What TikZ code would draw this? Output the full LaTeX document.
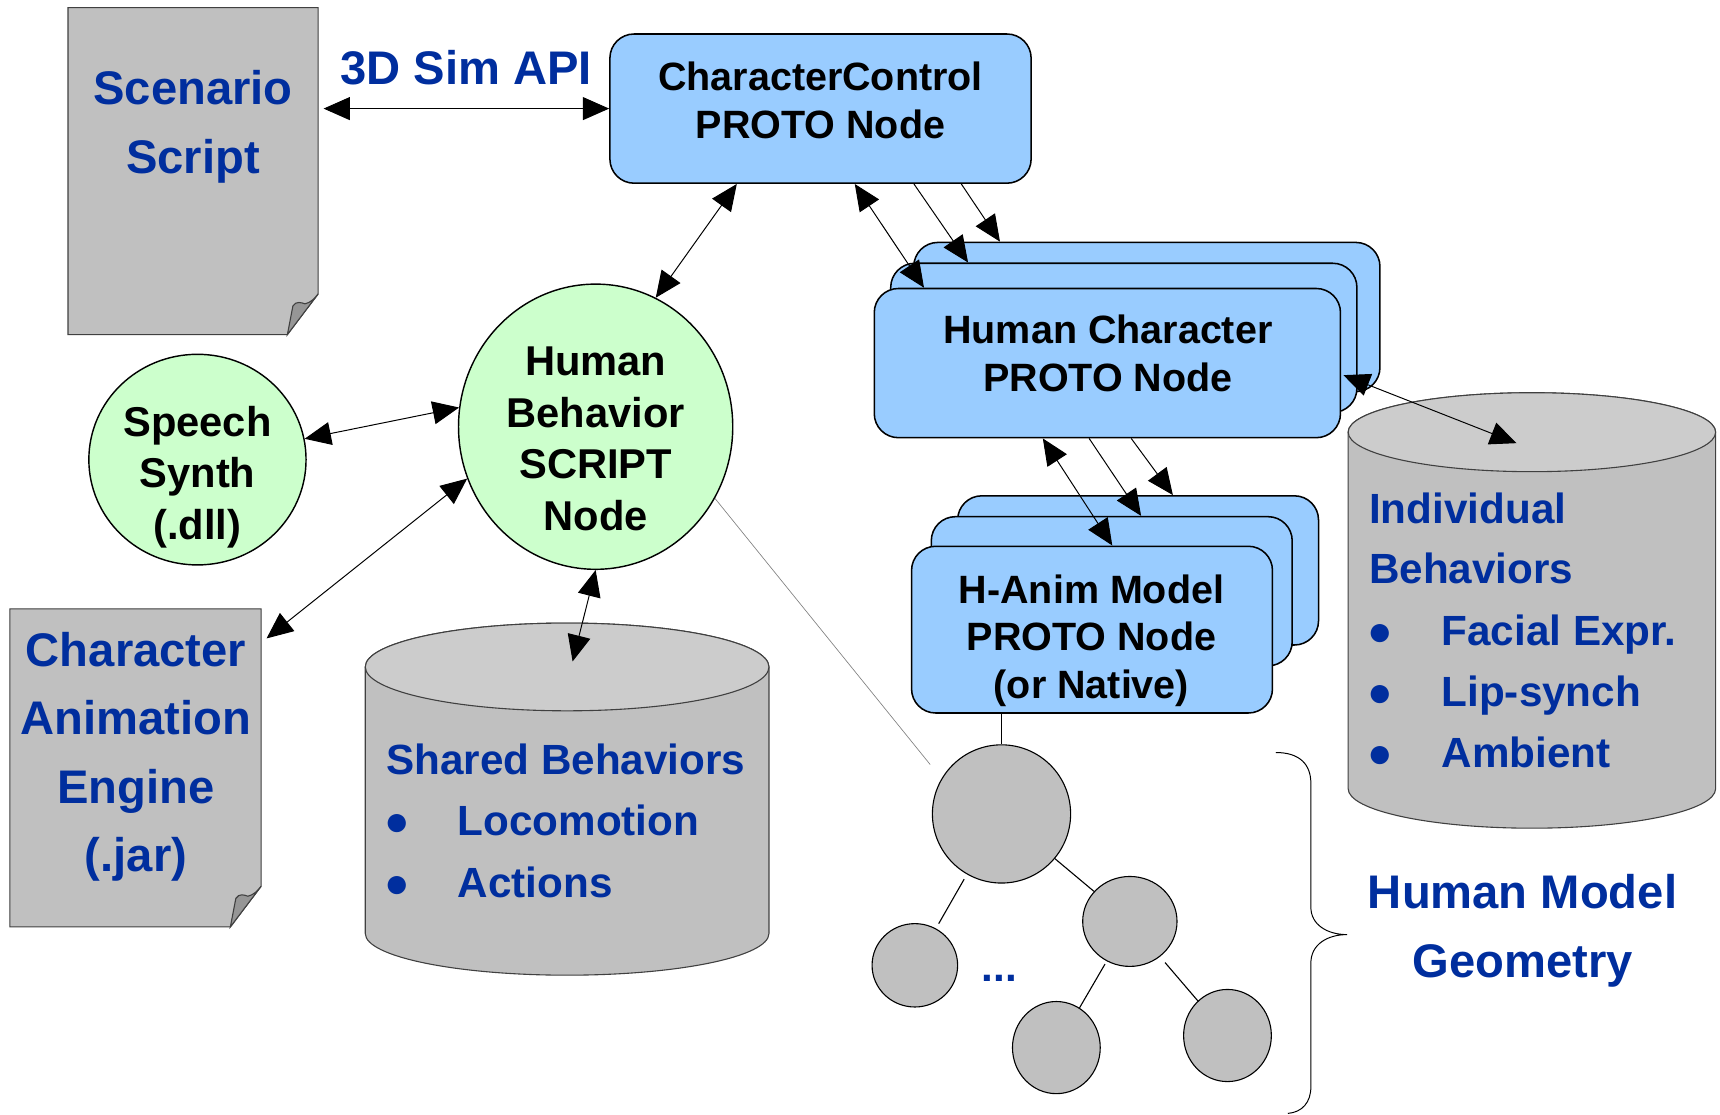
\documentclass[tikz,border=0pt]{standalone}
\usepackage{fontspec}
\setmainfont{Liberation Sans}
\usetikzlibrary{arrows.meta,shapes.geometric,calc}
\definecolor{boxblue}{HTML}{99CCFF}
\definecolor{bgreen}{HTML}{CCFFCC}
\definecolor{docgray}{HTML}{C0C0C0}
\definecolor{foldgray}{HTML}{969696}
\definecolor{cyltop}{HTML}{CCCCCC}
\definecolor{txtblue}{HTML}{002E9E}
\newcommand\fsBlk{\fontsize{36}{43.5}\selectfont\bfseries}
\newcommand\fsCir{\fontsize{38}{47}\selectfont\bfseries}
\newcommand\fsBig{\fontsize{43}{62.5}\selectfont\bfseries}
\newcommand\fsLst{\fontsize{38.5}{56}\selectfont\bfseries}
\begin{document}
\begin{tikzpicture}[x=1pt,y=-1pt,
  >={Triangle[length=24pt 0 0,width=21pt 0 0]},
  conn/.style={line width=0.9pt},
  dbl/.style={conn,<->},
  sgl/.style={conn,->},
  pbox/.style={draw,line width=1.4pt,fill=boxblue,rounded corners=22pt,inner sep=0pt},
  bub/.style={ellipse,draw,line width=1.3pt,fill=bgreen,inner sep=0pt},
  treeball/.style={ellipse,draw,line width=1pt,fill=docgray,inner sep=0pt},
  treeline/.style={line width=1pt},
  area/.style={inner sep=0pt,outer sep=0pt},
  docline/.style={draw=black!75,line width=1pt,fill=docgray},
  cylline/.style={draw=black!75,line width=1pt},
  btext/.style={align=center,text=black,inner sep=0pt},
  ltext/.style={align=center,text=txtblue,inner sep=0pt}]
\useasboundingbox (0,0) rectangle (1568,1016);

% ---- documents ----
\node[area,minimum width=228pt,minimum height=298pt] (scen) at (176,156) {};
\draw[docline] (62,7) -- (290,7) -- (290,268) -- (262,305) -- (62,305) -- cycle;
\draw[docline,fill=foldgray] (262,305) -- (267,279) .. controls (270,274) and (275,276) .. (278,277) .. controls (283,276) and (287,272) .. (290,268) -- cycle;

\node[area,minimum width=229pt,minimum height=290pt] (ca) at (123.5,700) {};
\draw[docline] (9,555) -- (238,555) -- (238,808) -- (210,845) -- (9,845) -- cycle;
\draw[docline,fill=foldgray] (210,845) -- (215,819) .. controls (218,814) and (223,816) .. (226,817) .. controls (231,816) and (235,812) .. (238,808) -- cycle;

% ---- cylinders ----
\node[area,minimum width=368pt,minimum height=321pt] (sh) at (517,728.5) {};
\draw[cylline,fill=docgray] (333,608) -- (333,851) arc[start angle=180,end angle=0,x radius=184,y radius=38] -- (701,608) arc[start angle=0,end angle=-180,x radius=184,y radius=40] -- cycle;
\draw[cylline,fill=cyltop] (517,608) ellipse[x radius=184,y radius=40];

\node[area,minimum width=335pt,minimum height=397pt] (ind) at (1396.5,556.5) {};
\draw[cylline,fill=docgray] (1229,394) -- (1229,719) arc[start angle=180,end angle=0,x radius=167.5,y radius=36] -- (1564,394) arc[start angle=0,end angle=-180,x radius=167.5,y radius=36] -- cycle;
\draw[cylline,fill=cyltop] (1396.5,394) ellipse[x radius=167.5,y radius=36];

% ---- boxes ----
\node[pbox,minimum width=384pt,minimum height=136pt] (cc) at (748,99) {};

\node[pbox,minimum width=425pt,minimum height=136pt] (hc3) at (1045.5,289) {};
\node[pbox,minimum width=425pt,minimum height=136pt] (hc2) at (1024.5,308) {};
\node[pbox,minimum width=425pt,minimum height=136pt] (hc1) at (1009.5,331) {};

\node[pbox,minimum width=329pt,minimum height=136pt] (ha3) at (1037.5,520) {};
\node[pbox,minimum width=329pt,minimum height=136pt] (ha2) at (1013.5,539) {};
\node[pbox,minimum width=329pt,minimum height=152pt] (ha1) at (995.5,574) {};

% ---- bubbles ----
\node[bub,minimum width=250pt,minimum height=260pt] (hb) at (543,389) {};
\node[bub,minimum width=198pt,minimum height=192pt] (sp) at (180,419) {};

% ---- tree ----
\node[treeball,minimum width=126pt,minimum height=126pt] (t0) at (913,742) {};
\node[treeball,minimum width=86pt,minimum height=82pt] (t1) at (1030,840) {};
\node[treeball,minimum width=78pt,minimum height=76pt] (t2) at (834,880) {};
\node[treeball,minimum width=80pt,minimum height=84pt] (t3) at (963,955) {};
\node[treeball,minimum width=80pt,minimum height=84pt] (t4) at (1119,944) {};
\draw[treeline] (t0) -- (t1);
\draw[treeline,shorten <=5pt,shorten >=5pt] (t0) -- (t2);
\draw[treeline,shorten <=3pt] (t1) -- (t3);
\draw[treeline,shorten <=7pt] (t1) -- (t4);
\draw[treeline] (t0.north |- ha1.south) -- (t0.north);

% ---- texts ----
\node[ltext,font=\fsBig] (scent) at (176,115.5) {Scenario\\Script};
\node[ltext,font=\fsBig,anchor=base] (api) at (425,77) {3D Sim API};
\node[btext,font=\fsBlk] (cct) at (748,91.5) {CharacterControl\\PROTO Node};
\node[btext,font=\fsBlk] (hct) at (1010,322) {Human Character\\PROTO Node};
\node[btext,font=\fsBlk] (hat) at (995,584) {H-Anim Model\\PROTO Node\\(or Native)};
\node[btext,font=\fsCir] (hbt) at (543,400) {Human\\Behavior\\SCRIPT\\Node};
\node[btext,font=\fsCir] (spt) at (180,435) {Speech\\Synth\\(.dll)};
\node[ltext,font=\fsBig] (cat) at (124,690) {Character\\Animation\\Engine\\(.jar)};
\node[ltext,font=\fsBig] (hmg) at (1388,848.5) {Human Model\\Geometry};

\node[ltext,font=\fsLst,anchor=base west] (sh1) at (352,706) {Shared Behaviors};
\node[ltext,font=\fsLst,anchor=base] (sh2b) at (362,762) {●};
\node[ltext,font=\fsLst,anchor=base west] (sh2) at (417,762) {Locomotion};
\node[ltext,font=\fsLst,anchor=base] (sh3b) at (362,818) {●};
\node[ltext,font=\fsLst,anchor=base west] (sh3) at (417,818) {Actions};

\node[ltext,font=\fsLst,anchor=base west] (in1) at (1248,477) {Individual};
\node[ltext,font=\fsLst,anchor=base west] (in2) at (1248,532) {Behaviors};
\node[ltext,font=\fsLst,anchor=base] (in3b) at (1258,588) {●};
\node[ltext,font=\fsLst,anchor=base west] (in3) at (1314,588) {Facial Expr.};
\node[ltext,font=\fsLst,anchor=base] (in4b) at (1258,644) {●};
\node[ltext,font=\fsLst,anchor=base west] (in4) at (1314,644) {Lip-synch};
\node[ltext,font=\fsLst,anchor=base] (in5b) at (1258,700) {●};
\node[ltext,font=\fsLst,anchor=base west] (in5) at (1314,700) {Ambient};

\node[ltext,font=\fsLst,anchor=base] (dots) at (911,895) {...};

% ---- brace ----
\draw[line width=0.9pt] (1163,686) .. controls (1185,686) and (1195,697) .. (1195,714) -- (1195,827) .. controls (1195,843) and (1210,852) .. (1228,852) .. controls (1210,852) and (1195,861) .. (1195,878) -- (1195,991) .. controls (1195,1005) and (1187,1014) .. (1174,1015);

% ---- connectors ----
\draw[dbl] ($(scen.east |- cc.west)+(5,0)$) -- (cc.west);
\draw[dbl] ($(cc.south west)!0.302!(cc.south east)$) -- (hb.65);
\draw[dbl] ($(cc.south west)!0.581!(cc.south east)$) -- ($(hc1.north west)!0.108!(hc1.north east)$);
\draw[sgl] ($(cc.south west)!0.721!(cc.south east)$) -- ($(hc2.north west)!0.167!(hc2.north east)$);
\draw[sgl] ($(cc.south west)!0.833!(cc.south east)$) -- ($(hc3.north west)!0.186!(hc3.north east)$);
\draw[dbl] ($(hc1.south west)!0.362!(hc1.south east)$) -- ($(ha1.north west)!0.556!(ha1.north east)$);
\draw[sgl] ($(hc1.south west)!0.461!(hc1.south east)$) -- ($(ha2.north west)!0.581!(ha2.north east)$);
\draw[sgl] ($(hc1.south west)!0.551!(hc1.south east)$) -- ($(ha3.north west)!0.596!(ha3.north east)$);
\draw[dbl] ($(hc1.east)+(2,11)$) -- ($(ind.north)+(-14,46)$);
\draw[dbl] (sp.11) -- (hb.172);
\draw[dbl] ($(ca.north east)+(5,27)$) -- (hb.202);
\draw[dbl] (hb.south) -- ($(sh.north)+(5,35)$);
\coordinate (gl) at (848,697);
\draw[gray,line width=0.6pt] (hb.-31) -- (gl);
\end{tikzpicture}
\end{document}
